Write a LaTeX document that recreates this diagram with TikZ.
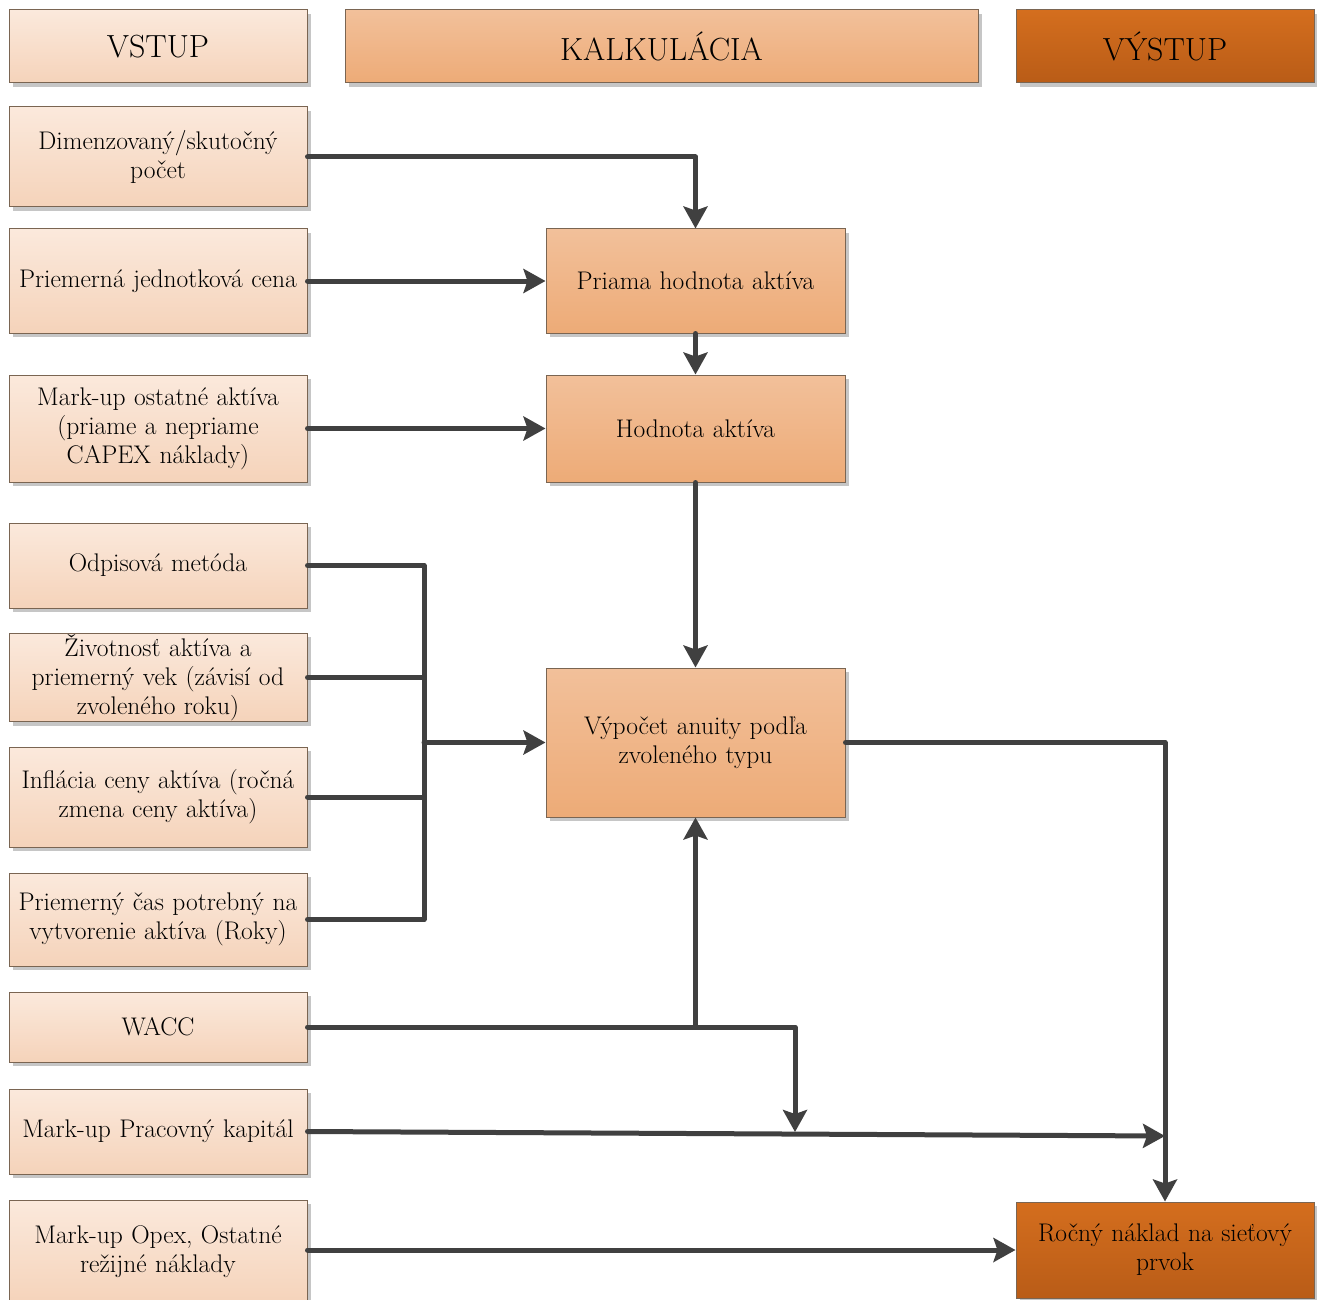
\documentclass[tikz,border=0pt]{standalone}
\usepackage{fontspec}
\usetikzlibrary{arrows.meta,shadows,calc}
\definecolor{inTop}{HTML}{FBE9DC}
\definecolor{inBot}{HTML}{F5D3BA}
\definecolor{calTop}{HTML}{F2C09A}
\definecolor{calBot}{HTML}{EDAB77}
\definecolor{outTop}{HTML}{D46E1E}
\definecolor{outBot}{HTML}{B95C17}
\definecolor{edgec}{HTML}{7A6552}
\definecolor{connc}{HTML}{404040}
\definecolor{shad}{HTML}{C6C6C6}
\begin{document}
\begin{tikzpicture}[x=1pt,y=-1pt,
  box/.style={draw=edgec, line width=1pt, rectangle, align=center, inner sep=1pt,
    font=\fontsize{25.5}{29}\selectfont,
    drop shadow={shadow xshift=4pt, shadow yshift=-4pt, fill=shad, opacity=1}},
  inbox/.style={box, top color=inTop, bottom color=inBot, minimum width=298pt, text width=296pt},
  calbox/.style={box, top color=calTop, bottom color=calBot, minimum width=299pt, text width=296pt},
  outbox/.style={box, top color=outTop, bottom color=outBot, minimum width=298pt, text width=296pt},
  headfont/.style={font=\fontsize{32}{38}\selectfont},
  conn/.style={draw=connc, line width=5pt, line cap=round, line join=round},
  arr/.style={conn, -{Stealth[length=22pt, width=24pt, inset=4pt]}}
]
\useasboundingbox (0,0) rectangle (1317,1300);

% headers
\node[inbox, headfont, minimum height=73pt] (hin) at (158,46.5) {VSTUP};
\node[calbox, headfont, minimum width=633pt, text width=620pt, minimum height=73pt] (hcal) at (661.5,46.5) {KALKULÁCIA};
\node[outbox, headfont, minimum height=73pt] (hout) at (1165,46.5) {VÝSTUP};

% inputs
\node[inbox, minimum height=100pt] (i1) at (158,157) {Dimenzovaný/skutočný\\počet};
\node[inbox, minimum height=104pt] (i2) at (158,281) {Priemerná jednotková cena};
\node[inbox, minimum height=107pt] (i3) at (158,428.5) {Mark-up ostatné aktíva\\(priame a nepriame\\CAPEX náklady)};
\node[inbox, minimum height=85pt] (i4) at (158,565.5) {Odpisová metóda};
\node[inbox, minimum height=85pt] (i5) at (158,677.5) {Životnosť aktíva a\\priemerný vek (závisí od\\zvoleného roku)};
\node[inbox, minimum height=100pt] (i6) at (158,797) {Inflácia ceny aktíva (ročná\\zmena ceny aktíva)};
\node[inbox, minimum height=93pt] (i7) at (158,919.5) {Priemerný čas potrebný na\\vytvorenie aktíva (Roky)};
\node[inbox, minimum height=70pt] (i8) at (158,1027) {WACC};
\node[inbox, minimum height=85pt] (i9) at (158,1131.5) {Mark-up Pracovný kapitál};
\node[inbox, minimum height=104pt] (i10) at (158,1252) {Mark-up Opex, Ostatné\\režijné náklady};

% calculation
\node[calbox, minimum height=104pt] (c1) at (695.5,281) {Priama hodnota aktíva};
\node[calbox, minimum height=107pt] (c2) at (695.5,428.5) {Hodnota aktíva};
\node[calbox, minimum height=149pt] (c3) at (695.5,742.5) {Výpočet anuity podľa\\zvoleného typu};

% output
\node[outbox, minimum height=96pt] (o1) at (1165,1250) {Ročný náklad na sieťový\\prvok};

% coordinates
\coordinate (bus) at (424,742.5);
\coordinate (wj) at (795,1132);
\coordinate (mk) at (1165,1136);

% connectors
\draw[arr] (i1.east) -| (c1.north);
\draw[arr] (i2.east) -- (c1.west);
\draw[arr] (i3.east) -- (c2.west);
\draw[arr] (c1.south) -- (c2.north);
\draw[arr] (c2.south) -- (c3.north);

\draw[conn] (i4.east) -- (i4.east -| bus) -- (i7.east -| bus) -- (i7.east);
\draw[conn] (i5.east) -- (i5.east -| bus);
\draw[conn] (i6.east) -- (i6.east -| bus);
\draw[arr] (bus) -- (c3.west);

\draw[arr] (c3.east) -| (o1.north);

\draw[arr] (i8.east) -| (wj);
\draw[arr] (i8.east -| c3.south) -- (c3.south);
\draw[arr] (i9.east) -- (mk);
\draw[arr] (i10.east |- o1.west) -- (o1.west);
\end{tikzpicture}
\end{document}
